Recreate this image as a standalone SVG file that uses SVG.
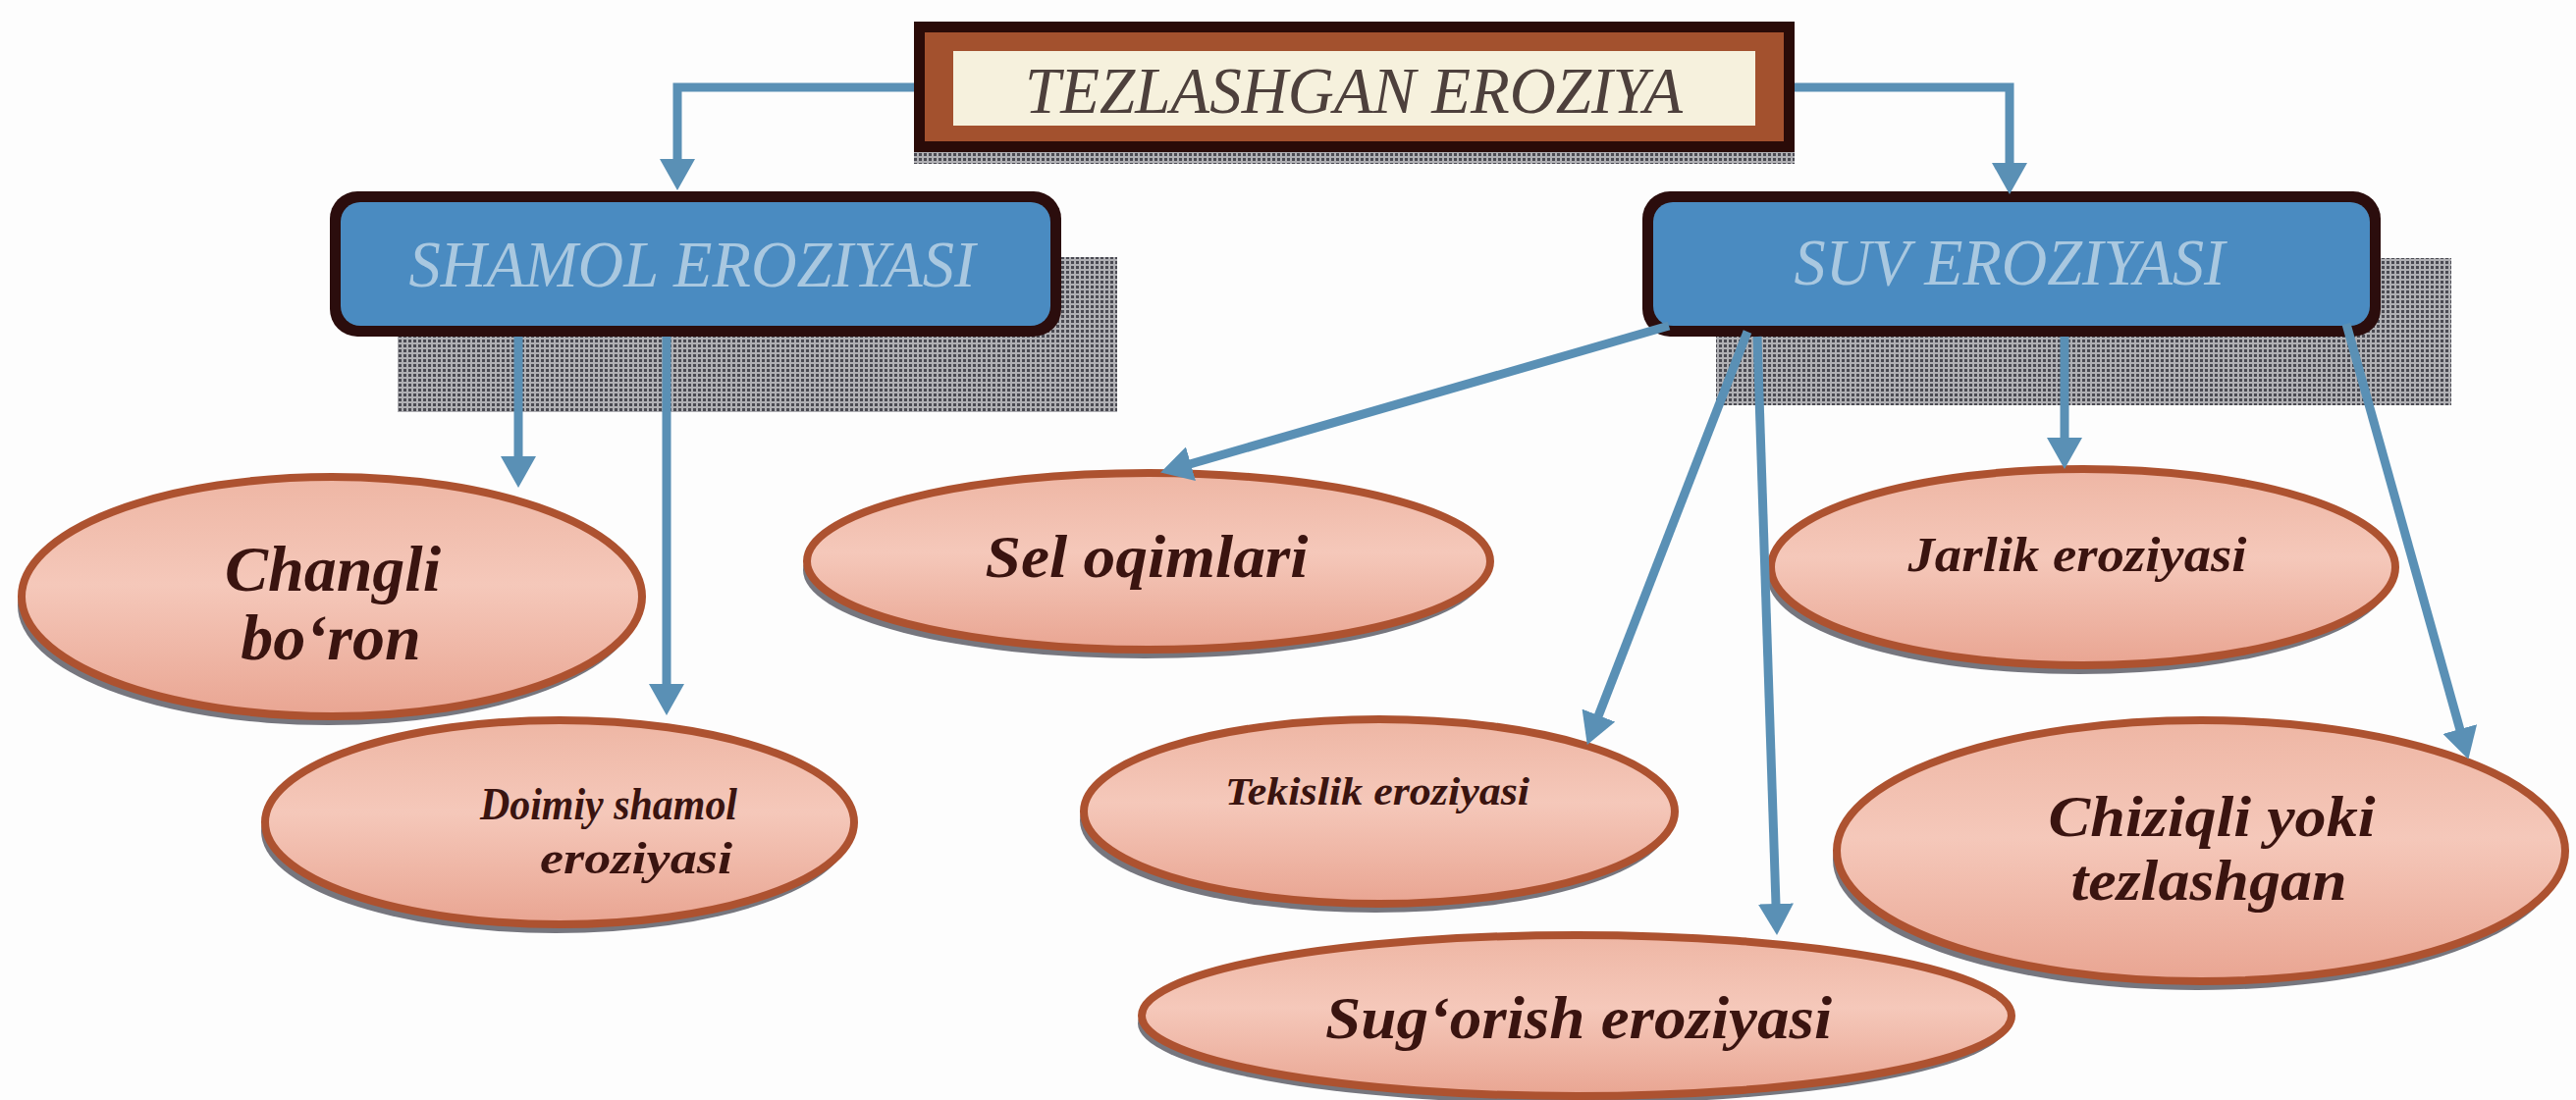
<svg xmlns="http://www.w3.org/2000/svg" width="2624" height="1121" viewBox="0 0 2624 1121">
<defs>
<pattern id="half" width="5" height="5" patternUnits="userSpaceOnUse">
<rect width="5" height="5" fill="#b0b0b4"/>
<rect x="1" y="1" width="3" height="3" fill="#4a4a52"/>
</pattern>
<linearGradient id="pink" x1="0" y1="0" x2="0" y2="1">
<stop offset="0" stop-color="#eeb6a4"/>
<stop offset="0.45" stop-color="#f5c8ba"/>
<stop offset="1" stop-color="#e9a592"/>
</linearGradient>
<marker id="ah" viewBox="0 0 32 36" refX="1" refY="18" markerWidth="32" markerHeight="36" markerUnits="userSpaceOnUse" orient="auto">
<path d="M0,0 L32,18 L0,36 Z" fill="#5a90b5"/>
</marker>
</defs>
<style>
.conn{fill:none;stroke:#5a90b5;stroke-width:9;marker-end:url(#ah)}
.ell{fill:url(#pink);stroke:#ad5230;stroke-width:8}
.esh{fill:#76767e}
.et{font-family:"Liberation Serif","Times New Roman",serif;font-style:italic;font-weight:bold;fill:#3a1410;text-anchor:middle}
.bt{font-family:"Liberation Serif","Times New Roman",serif;font-style:italic;font-size:68px;text-anchor:middle}
.sh{fill:url(#half)}
</style>
<rect width="2624" height="1121" fill="#fdfdfd"/>

<g id="node-top">
<rect class="sh" x="931" y="152" width="897" height="15"/>
<rect x="931" y="22" width="897" height="133" fill="#2a0b08"/>
<rect x="942" y="33" width="875" height="111" fill="#a3512e"/>
<rect x="971" y="52" width="817" height="76" fill="#f6f1dd"/>
<text class="bt" x="1379" y="115" fill="#4d403c" textLength="670" lengthAdjust="spacingAndGlyphs">TEZLASHGAN EROZIYA</text>
</g>

<g id="node-shamol">
<rect class="sh" x="405" y="262" width="733" height="158"/>
<rect x="336" y="195" width="745" height="148" rx="28" fill="#2b0d0d"/>
<rect x="347" y="206" width="723" height="126" rx="20" fill="#4a8bc1"/>
<text class="bt" x="705" y="292" fill="#a9c8e0" textLength="577" lengthAdjust="spacingAndGlyphs">SHAMOL EROZIYASI</text>
</g>

<g id="node-suv">
<rect class="sh" x="1748" y="263" width="749" height="150"/>
<rect x="1673" y="195" width="752" height="148" rx="28" fill="#2b0d0d"/>
<rect x="1684" y="206" width="730" height="126" rx="20" fill="#4a8bc1"/>
<text class="bt" x="2047" y="290" fill="#a9c8e0" textLength="439" lengthAdjust="spacingAndGlyphs">SUV EROZIYASI</text>
</g>

<g id="node-changli">
<ellipse class="esh" cx="334" cy="617" rx="316" ry="122"/>
<ellipse class="ell" cx="338" cy="608" rx="316" ry="122"/>
<text class="et" x="339" y="602" font-size="66">Changli</text>
<text class="et" x="337" y="672" font-size="66">bo‘ron</text>
</g>

<g id="node-doimiy">
<ellipse class="esh" cx="566" cy="847" rx="300" ry="104"/>
<ellipse class="ell" cx="570" cy="838" rx="300" ry="104"/>
<text class="et" x="620" y="835" font-size="46" textLength="262" lengthAdjust="spacingAndGlyphs">Doimiy shamol</text>
<text class="et" x="648" y="890" font-size="46" textLength="196" lengthAdjust="spacingAndGlyphs">eroziyasi</text>
</g>

<g id="node-sel">
<ellipse class="esh" cx="1166" cy="581" rx="348" ry="90"/>
<ellipse class="ell" cx="1170" cy="572" rx="348" ry="90"/>
<text class="et" x="1168" y="588" font-size="62" textLength="329" lengthAdjust="spacingAndGlyphs">Sel oqimlari</text>
</g>

<g id="node-jarlik">
<ellipse class="esh" cx="2118" cy="587" rx="318" ry="100"/>
<ellipse class="ell" cx="2122" cy="578" rx="318" ry="100"/>
<text class="et" x="2116" y="582" font-size="50" textLength="345" lengthAdjust="spacingAndGlyphs">Jarlik eroziyasi</text>
</g>

<g id="node-tekislik">
<ellipse class="esh" cx="1401" cy="836" rx="301" ry="94"/>
<ellipse class="ell" cx="1405" cy="827" rx="301" ry="94"/>
<text class="et" x="1403" y="820" font-size="40" textLength="310" lengthAdjust="spacingAndGlyphs">Tekislik eroziyasi</text>
</g>

<g id="node-sugorish">
<ellipse class="esh" cx="1602" cy="1043" rx="443" ry="82"/>
<ellipse class="ell" cx="1606" cy="1035" rx="443" ry="82"/>
<text class="et" x="1608" y="1058" font-size="62" textLength="516" lengthAdjust="spacingAndGlyphs">Sug‘orish eroziyasi</text>
</g>

<g id="node-chiziqli">
<ellipse class="esh" cx="2238" cy="876" rx="371" ry="133"/>
<ellipse class="ell" cx="2242" cy="867" rx="371" ry="133"/>
<text class="et" x="2253" y="852" font-size="60" textLength="333" lengthAdjust="spacingAndGlyphs">Chiziqli yoki</text>
<text class="et" x="2250" y="917" font-size="60" textLength="281" lengthAdjust="spacingAndGlyphs">tezlashgan</text>
</g>

<g id="connectors">
<path class="conn" d="M931,89 H690 V163"/>
<path class="conn" d="M1828,89 H2047 V167"/>
<path class="conn" d="M528,343 V466"/>
<path class="conn" d="M679,343 V698"/>
<path class="conn" d="M1700,332 L1212,473"/>
<path class="conn" d="M1780,338 L1628,730"/>
<path class="conn" d="M1790,343 L1809,922"/>
<path class="conn" d="M2103,343 V447"/>
<path class="conn" d="M2390,330 L2506,744"/>
</g>
</svg>
